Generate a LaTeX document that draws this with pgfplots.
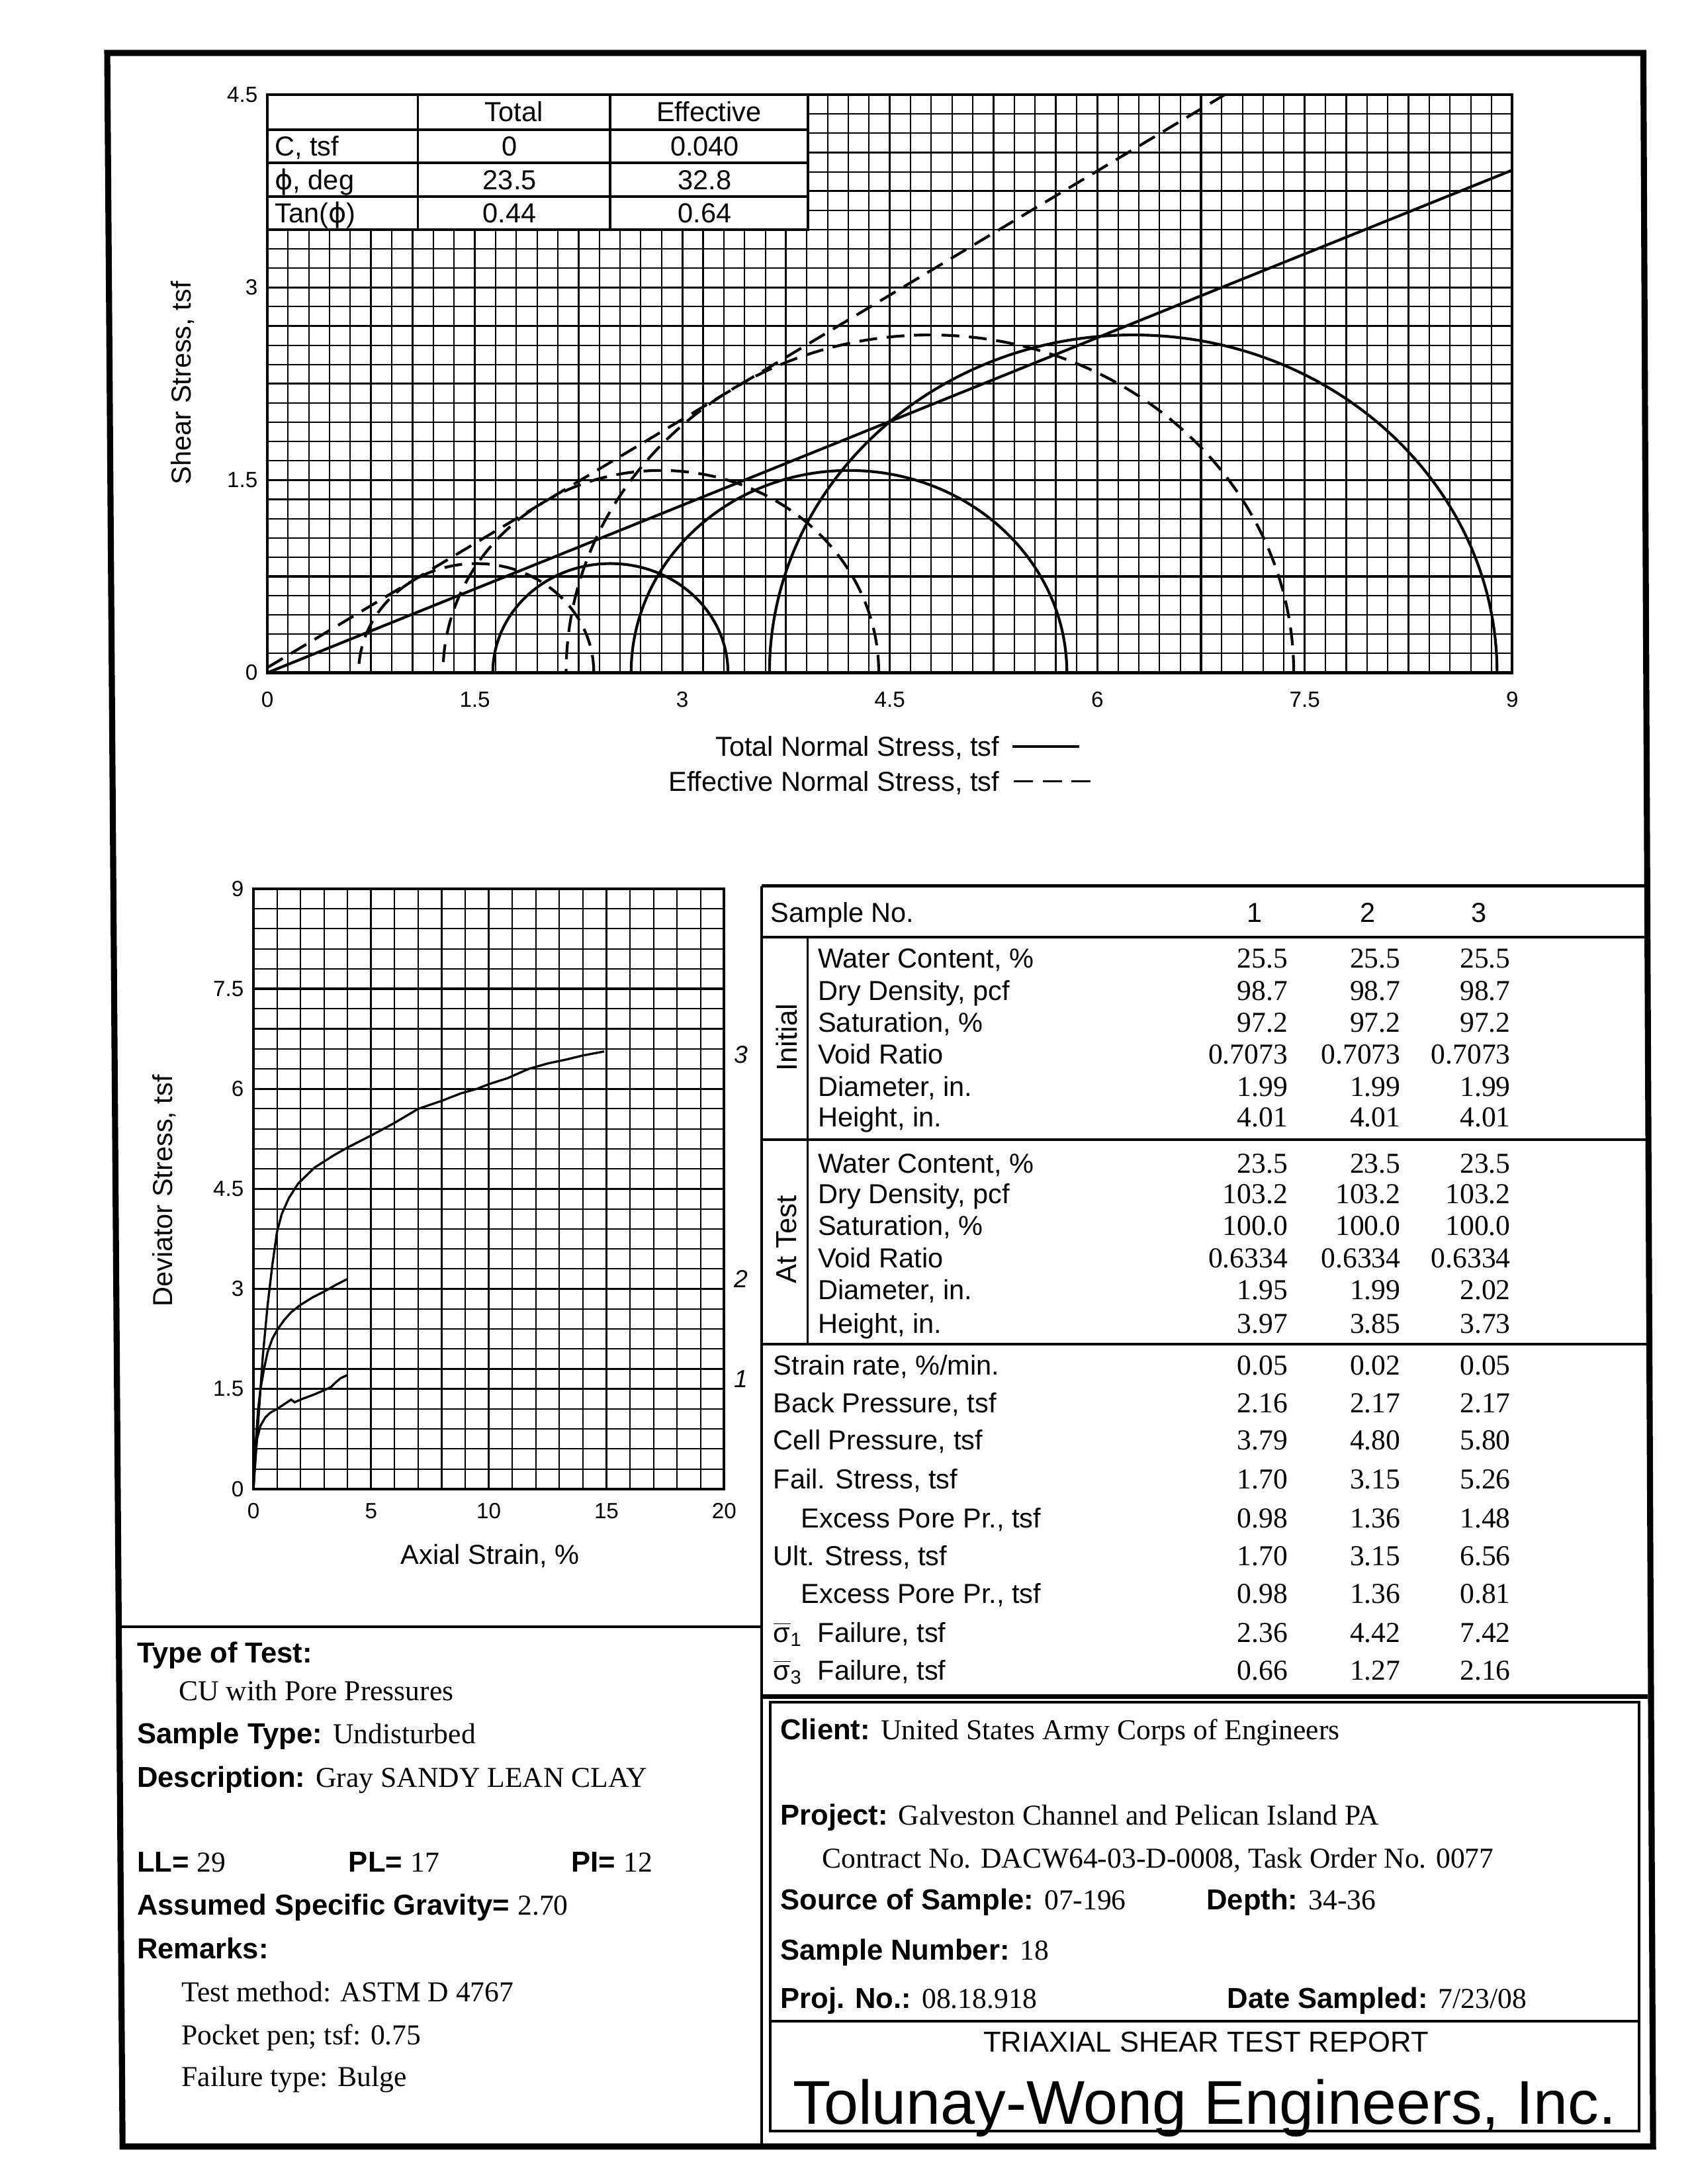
\documentclass[border=0pt]{standalone}
\usepackage{fontspec}
\setmainfont{Liberation Serif}
\setsansfont{Liberation Sans}
\newfontfamily\dejavu{DejaVu Sans}
\usepackage{pgfplots}
\pgfplotsset{compat=1.18}

\newcommand\fs{\sffamily\mdseries\fontsize{10}{12}\selectfont}
\newcommand\fb{\sffamily\bfseries\fontsize{10.5}{12}\selectfont}
\newcommand\fr{\rmfamily\mdseries\fontsize{10.5}{12}\selectfont}
\newcommand\phig{{\dejavu ϕ}}
\newcommand\sbar[1]{\(\overline{\mbox{σ}}_{\mbox{\fontsize{7}{8}\selectfont #1}}\)}
% one row of the sample table: [label x]{baseline y}{label}{v1}{v2}{v3}
\newcommand\trow[6][587]{%
  \node[anchor=base west,inner sep=0] at (#1,-#2) {\fs #3};
  \node[anchor=base east,inner sep=0] at (925,-#2) {\fr #4};
  \node[anchor=base east,inner sep=0] at (1006,-#2) {\fr #5};
  \node[anchor=base east,inner sep=0] at (1085,-#2) {\fr #6};}

\begin{document}
\begin{tikzpicture}
% page in units of 0.1782 mm, origin at the top left corner
\begin{scope}[x=0.1782mm,y=0.1782mm]
\path (0,0) rectangle (1216,-1568);
\end{scope}

% Mohr circles
\begin{axis}[
  at={(34.21mm,-86.07mm)}, anchor=south west, scale only axis,
  width=159.3mm, height=73.95mm,
  xmin=0, xmax=9, ymin=0, ymax=4.5,
  xtick={0,0.75,...,9}, xticklabels={0,,1.5,,3,,4.5,,6,,7.5,,9},
  ytick={0,0.75,...,4.5}, yticklabels={0,,1.5,,3,,4.5},
  minor tick num=4, grid=both,
  major grid style={black, line width=0.75pt},
  minor grid style={black, line width=0.5pt},
  major tick length=0pt, minor tick length=0pt,
  axis line style={line width=1pt},
  tick label style={font=\sffamily\fontsize{8}{9}\selectfont},
  xticklabel style={yshift=-1.2mm},
]
\addplot[black, line width=1pt] coordinates {(0,0) (9,3.913)};
\addplot[black, line width=1pt, dash pattern=on 6.5pt off 3.5pt] coordinates {(0,0.04) (9,5.84)};
% total stress circles (sigma3, sigma1 from the table)
\draw[line width=1pt] (axis cs:2.48,0) ellipse [x radius=0.85, y radius=0.85];
\draw[line width=1pt] (axis cs:4.205,0) ellipse [x radius=1.575, y radius=1.575];
\draw[line width=1pt] (axis cs:6.26,0) ellipse [x radius=2.63, y radius=2.63];
% effective stress circles
\draw[line width=1pt, dash pattern=on 6.5pt off 3.5pt] (axis cs:1.51,0) ellipse [x radius=0.85, y radius=0.85];
\draw[line width=1pt, dash pattern=on 6.5pt off 3.5pt] (axis cs:2.845,0) ellipse [x radius=1.575, y radius=1.575];
\draw[line width=1pt, dash pattern=on 6.5pt off 3.5pt] (axis cs:4.79,0) ellipse [x radius=2.63, y radius=2.63];
\end{axis}

% stress-strain curves
\begin{axis}[
  at={(32.43mm,-190.50mm)}, anchor=south west, scale only axis,
  width=60.23mm, height=76.8mm,
  xmin=0, xmax=20, ymin=0, ymax=9,
  xtick={0,5,...,20}, ytick={0,1.5,...,9},
  minor x tick num=4, minor y tick num=4, grid=both,
  major grid style={black, line width=0.75pt},
  minor grid style={black, line width=0.5pt},
  major tick length=0pt, minor tick length=0pt,
  axis line style={line width=1pt},
  tick label style={font=\sffamily\fontsize{8}{9}\selectfont},
  xticklabel style={yshift=-0.6mm},
  xticklabels={0,5,10,15,20}, yticklabels={0,1.5,3,4.5,6,7.5,9},
]
\addplot[black, line width=0.8pt] coordinates {
 (0,0) (0.2,1.0) (0.4,2.0) (0.6,2.75) (0.8,3.35) (1.0,3.85) (1.2,4.12)
 (1.5,4.36) (1.9,4.58) (2.6,4.82) (3.4,5.0) (4.0,5.12) (5.0,5.3) (6.0,5.49)
 (7.0,5.7) (8.0,5.82) (8.8,5.93) (9.5,6.0) (10.0,6.07) (10.8,6.16) (11.7,6.3)
 (12.5,6.38) (13.3,6.44) (14.0,6.5) (14.9,6.56)};
\addplot[black, line width=0.8pt] coordinates {
 (0,0) (0.1,0.7) (0.2,1.2) (0.3,1.5) (0.45,1.8) (0.6,2.05) (0.8,2.25)
 (1.0,2.38) (1.3,2.53) (1.6,2.65) (2.0,2.76) (2.5,2.87) (3.0,2.96)
 (3.5,3.06) (4.0,3.15)};
\addplot[black, line width=0.8pt] coordinates {
 (0,0) (0.08,0.5) (0.15,0.75) (0.3,0.95) (0.5,1.07) (0.7,1.14) (1.0,1.2)
 (1.3,1.27) (1.6,1.34) (1.75,1.30) (2.0,1.34) (2.6,1.42) (3.0,1.48)
 (3.3,1.53) (3.5,1.6) (3.7,1.66) (4.0,1.71)};
\end{axis}

\begin{scope}[x=0.1782mm,y=0.1782mm]
% strength table inside the Mohr plot
\fill[white] (192,-68) rectangle (580,-165);
\draw[line width=0.9pt] (192,-68) rectangle (580,-165);
\foreach \yy in {93,117,141} \draw[line width=0.9pt] (192,-\yy) -- (580,-\yy);
\draw[line width=0.9pt] (300,-68) -- (300,-165) (438,-68) -- (438,-165);
\node[anchor=base,inner sep=0] at (369,-87) {\fs Total};
\node[anchor=base,inner sep=0] at (509,-87) {\fs Effective};
\node[anchor=base west,inner sep=0] at (197,-112) {\fs C, tsf};
\node[anchor=base,inner sep=0] at (366,-112) {\fs 0};
\node[anchor=base,inner sep=0] at (506,-112) {\fs 0.040};
\node[anchor=base west,inner sep=0] at (197,-136) {\fs \phig, deg};
\node[anchor=base,inner sep=0] at (366,-136) {\fs 23.5};
\node[anchor=base,inner sep=0] at (506,-136) {\fs 32.8};
\node[anchor=base west,inner sep=0] at (197,-160) {\fs Tan(\phig)};
\node[anchor=base,inner sep=0] at (366,-160) {\fs 0.44};
\node[anchor=base,inner sep=0] at (506,-160) {\fs 0.64};

\node[rotate=90] at (131,-275) {\fs Shear Stress, tsf};
\node[anchor=base east,inner sep=0] at (718,-543) {\fs Total Normal Stress, tsf};
\draw[line width=0.8pt] (727,-536) -- (775,-536);
\node[anchor=base east,inner sep=0] at (718,-568) {\fs Effective Normal Stress, tsf};
\draw[line width=0.8pt, dash pattern=on 7pt off 3.5pt] (728,-561) -- (790,-561);

\node[anchor=west,inner sep=0] at (527,-757) {\sffamily\itshape\fontsize{9}{10}\selectfont 3};
\node[anchor=west,inner sep=0] at (527,-918) {\sffamily\itshape\fontsize{9}{10}\selectfont 2};
\node[anchor=west,inner sep=0] at (527,-990) {\sffamily\itshape\fontsize{9}{10}\selectfont 1};
\node[rotate=90] at (118,-855) {\fs Deviator Stress, tsf};
\node at (352,-1117) {\fs Axial Strain, \%};

% sample table
\draw[line width=1pt] (547,-636) -- (1183,-636);
\draw[line width=1pt] (547,-673) -- (1183,-673);
\draw[line width=1pt] (547,-818) -- (1183,-818);
\draw[line width=1pt] (547,-965) -- (1183,-965);
\draw[line width=1.8pt] (547,-1218) -- (1183,-1218);
\draw[line width=0.8pt] (580,-673) -- (580,-965);
\draw[line width=1pt] (547,-636) -- (547,-1540);
\node[anchor=base west,inner sep=0] at (553,-662) {\fs Sample No.};
\node[anchor=base,inner sep=0] at (901,-662) {\fs 1};
\node[anchor=base,inner sep=0] at (982,-662) {\fs 2};
\node[anchor=base,inner sep=0] at (1062,-662) {\fs 3};
\node[rotate=90] at (565,-745) {\sffamily\fontsize{10.5}{12}\selectfont Initial};
\node[rotate=90] at (565,-890) {\sffamily\fontsize{10.5}{12}\selectfont At Test};
\trow{695}{Water Content, \%}{25.5}{25.5}{25.5}
\trow{718}{Dry Density, pcf}{98.7}{98.7}{98.7}
\trow{741}{Saturation, \%}{97.2}{97.2}{97.2}
\trow{764}{Void Ratio}{0.7073}{0.7073}{0.7073}
\trow{787}{Diameter, in.}{1.99}{1.99}{1.99}
\trow{809}{Height, in.}{4.01}{4.01}{4.01}
\trow{842}{Water Content, \%}{23.5}{23.5}{23.5}
\trow{864}{Dry Density, pcf}{103.2}{103.2}{103.2}
\trow{887}{Saturation, \%}{100.0}{100.0}{100.0}
\trow{910}{Void Ratio}{0.6334}{0.6334}{0.6334}
\trow{933}{Diameter, in.}{1.95}{1.99}{2.02}
\trow{957}{Height, in.}{3.97}{3.85}{3.73}
\trow[555]{987}{Strain rate, \%/min.}{0.05}{0.02}{0.05}
\trow[555]{1014}{Back Pressure, tsf}{2.16}{2.17}{2.17}
\trow[555]{1041}{Cell Pressure, tsf}{3.79}{4.80}{5.80}
\trow[555]{1069}{Fail. Stress, tsf}{1.70}{3.15}{5.26}
\trow[575]{1097}{Excess Pore Pr., tsf}{0.98}{1.36}{1.48}
\trow[555]{1124}{Ult. Stress, tsf}{1.70}{3.15}{6.56}
\trow[575]{1151}{Excess Pore Pr., tsf}{0.98}{1.36}{0.81}
\trow[555]{1179}{\sbar{1}\ \ Failure, tsf}{2.36}{4.42}{7.42}
\trow[555]{1206}{\sbar{3}\ \ Failure, tsf}{0.66}{1.27}{2.16}

% lower left block
\draw[line width=1pt] (86,-1168) -- (547,-1168);
\node[anchor=base west,inner sep=0] at (98,-1194) {\fb Type of Test:};
\node[anchor=base west,inner sep=0] at (128,-1221) {\fr CU with Pore Pressures};
\node[anchor=base west,inner sep=0] at (98,-1252) {\fb Sample Type: \fr Undisturbed};
\node[anchor=base west,inner sep=0] at (98,-1283) {\fb Description: \fr Gray SANDY LEAN CLAY};
\node[anchor=base west,inner sep=0] at (98,-1344) {\fb LL= \fr 29};
\node[anchor=base west,inner sep=0] at (250,-1344) {\fb PL= \fr 17};
\node[anchor=base west,inner sep=0] at (410,-1344) {\fb PI= \fr 12};
\node[anchor=base west,inner sep=0] at (98,-1375) {\fb Assumed Specific Gravity= \fr 2.70};
\node[anchor=base west,inner sep=0] at (98,-1406) {\fb Remarks:};
\node[anchor=base west,inner sep=0] at (130,-1437) {\fr Test method: ASTM D 4767};
\node[anchor=base west,inner sep=0] at (130,-1468) {\fr Pocket pen; tsf: 0.75};
\node[anchor=base west,inner sep=0] at (130,-1498) {\fr Failure type: Bulge};

% lower right block
\draw[line width=1pt] (553,-1222) rectangle (1177,-1530);
\draw[line width=1pt] (553,-1451) -- (1177,-1451);
\node[anchor=base west,inner sep=0] at (560,-1249) {\fb Client: \fr United States Army Corps of Engineers};
\node[anchor=base west,inner sep=0] at (560,-1310) {\fb Project: \fr Galveston Channel and Pelican Island PA};
\node[anchor=base west,inner sep=0] at (590,-1341) {\fr Contract No. DACW64-03-D-0008, Task Order No. 0077};
\node[anchor=base west,inner sep=0] at (560,-1371) {\fb Source of Sample: \fr 07-196};
\node[anchor=base west,inner sep=0] at (866,-1371) {\fb Depth: \fr 34-36};
\node[anchor=base west,inner sep=0] at (560,-1407) {\fb Sample Number: \fr 18};
\node[anchor=base west,inner sep=0] at (560,-1442) {\fb Proj. No.: \fr 08.18.918};
\node[anchor=base west,inner sep=0] at (881,-1442) {\fb Date Sampled: \fr 7/23/08};
\node[anchor=base,inner sep=0] at (866,-1473) {\sffamily\fontsize{10.5}{12}\selectfont TRIAXIAL SHEAR TEST REPORT};
\node[anchor=base,inner sep=0] at (865,-1525) {\sffamily\fontsize{22.5}{26}\selectfont Tolunay-Wong Engineers, Inc.};

% outer frame
\draw[line width=2.2pt, line join=miter] (77,-38) -- (1180,-38) -- (1187,-1541) -- (88,-1541) -- cycle;
\end{scope}
\end{tikzpicture}
\end{document}
